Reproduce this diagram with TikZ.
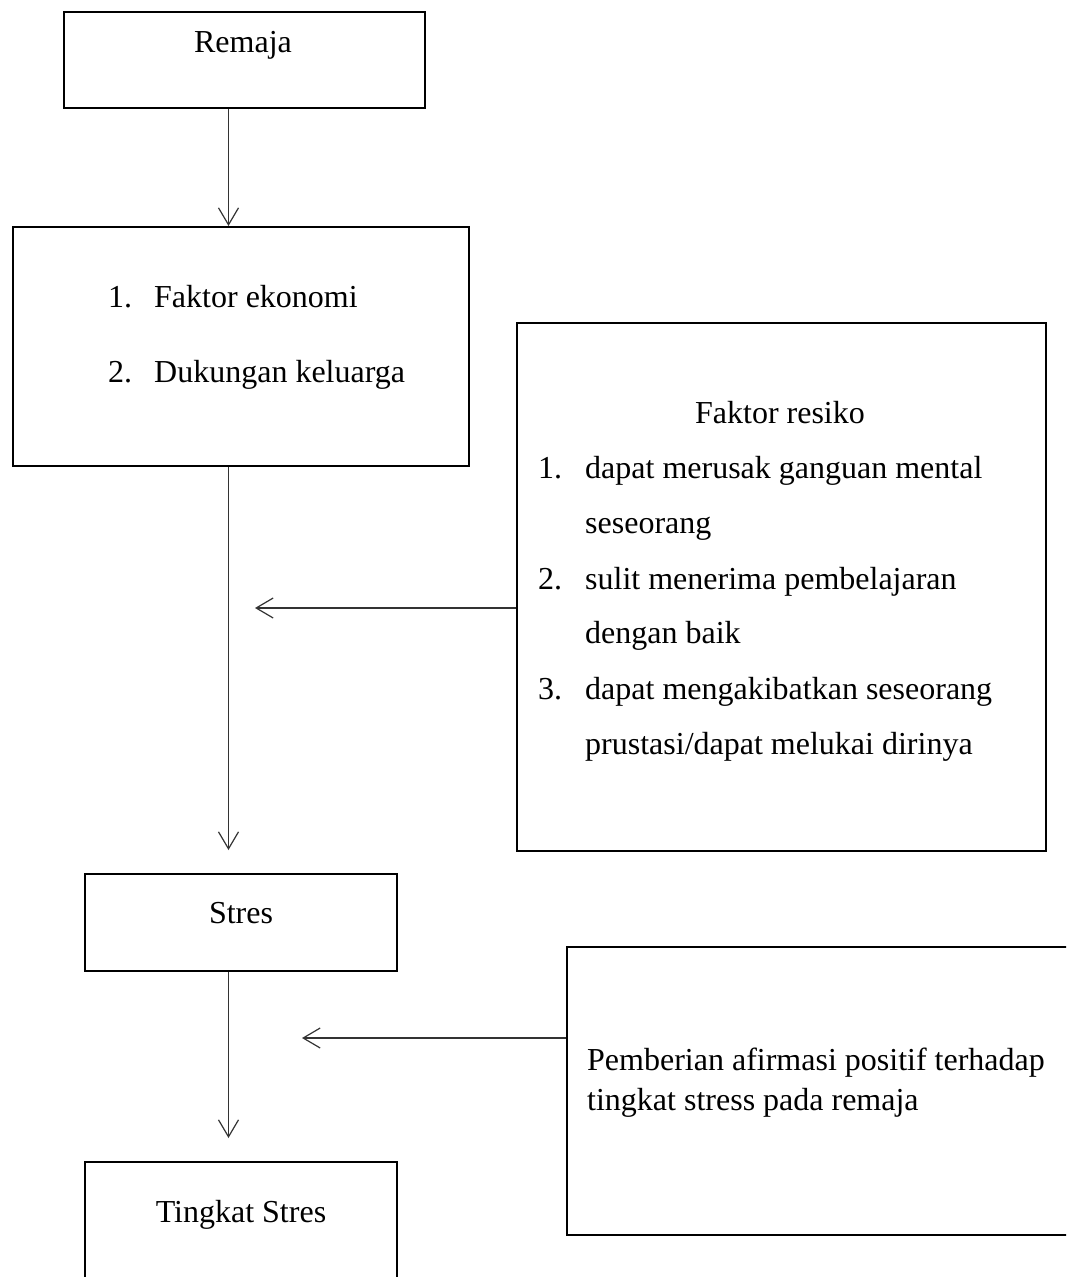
\documentclass[tikz,border=0pt]{standalone}
\usepackage{fontspec}
\setmainfont{Liberation Serif}
\usetikzlibrary{arrows.meta,positioning}

\begin{document}
\begin{tikzpicture}[x=1pt, y=-1pt, >={Straight Barb[length=17pt,width=20pt]}]

% ------------------------------------------------
% Styles
% ------------------------------------------------
\tikzset{
    box/.style={draw, line width=2pt, inner sep=0pt, anchor=north west},
    arr/.style={->, line width=1.2pt, black!80},
    txt/.style={font=\fontsize{32}{38}\selectfont, inner sep=0pt},
}

\clip (0,0) rectangle (1066,1277);

% ------------------------------------------------
% Boxes
% ------------------------------------------------
\node[box, minimum width=361pt, minimum height=96pt]  (remaja)   at (63,11)   {};
\node[box, minimum width=456pt, minimum height=239pt] (faktor)   at (12,226)  {};
\node[box, minimum width=529pt, minimum height=528pt] (resiko)   at (516,322) {};
\node[box, minimum width=312pt, minimum height=97pt]  (stres)    at (84,873)  {};
\node[box, minimum width=534pt, minimum height=288pt] (afirmasi) at (566,946) {};
\node[box, minimum width=312pt, minimum height=159pt] (tingkat)  at (84,1161) {};

% ------------------------------------------------
% Texts
% ------------------------------------------------
\node[txt, anchor=base] (tremaja) at (243,52) {Remaja};

\node[txt, anchor=base west] (f1n) at (108,307) {1.};
\node[txt, anchor=base west] (f1)  at (154,307) {Faktor ekonomi};
\node[txt, anchor=base west] (f2n) at (108,382) {2.};
\node[txt, anchor=base west] (f2)  at (154,382) {Dukungan keluarga};

\node[txt, anchor=base] (tresiko) at (780,423) {Faktor resiko};
\foreach \y/\n/\t in {478/1./dapat merusak ganguan mental,
                      533//seseorang,
                      589/2./sulit menerima pembelajaran,
                      643//dengan baik,
                      699/3./dapat mengakibatkan seseorang,
                      754//prustasi\slash dapat melukai dirinya}{
    \node[txt, anchor=base west] (rn\y) at (538,\y) {\n};
    \node[txt, anchor=base west] (rt\y) at (585,\y) {\t};
}

\node[txt, anchor=base] (tstres) at (241,923) {Stres};

\node[txt, anchor=base west] (a1) at (587,1070) {Pemberian afirmasi positif terhadap};
\node[txt, anchor=base west] (a2) at (587,1110) {tingkat stress pada remaja};

\node[txt, anchor=base] (ttingkat) at (241,1222) {Tingkat Stres};

% ------------------------------------------------
% Arrows
% ------------------------------------------------
\coordinate (ax) at (228.5,0);
\coordinate (r1) at (255,608);
\coordinate (r2) at (302,1038);

\draw[arr] (remaja.south -| ax) -- (faktor.north -| ax);
\draw[arr, shorten >=23pt] (faktor.south -| ax) -- (stres.north -| ax);
\draw[arr, shorten >=23pt] (stres.south -| ax) -- (tingkat.north -| ax);

\draw[arr] (resiko.west |- r1) -- (r1);
\draw[arr] (afirmasi.west |- r2) -- (r2);

\end{tikzpicture}
\end{document}
